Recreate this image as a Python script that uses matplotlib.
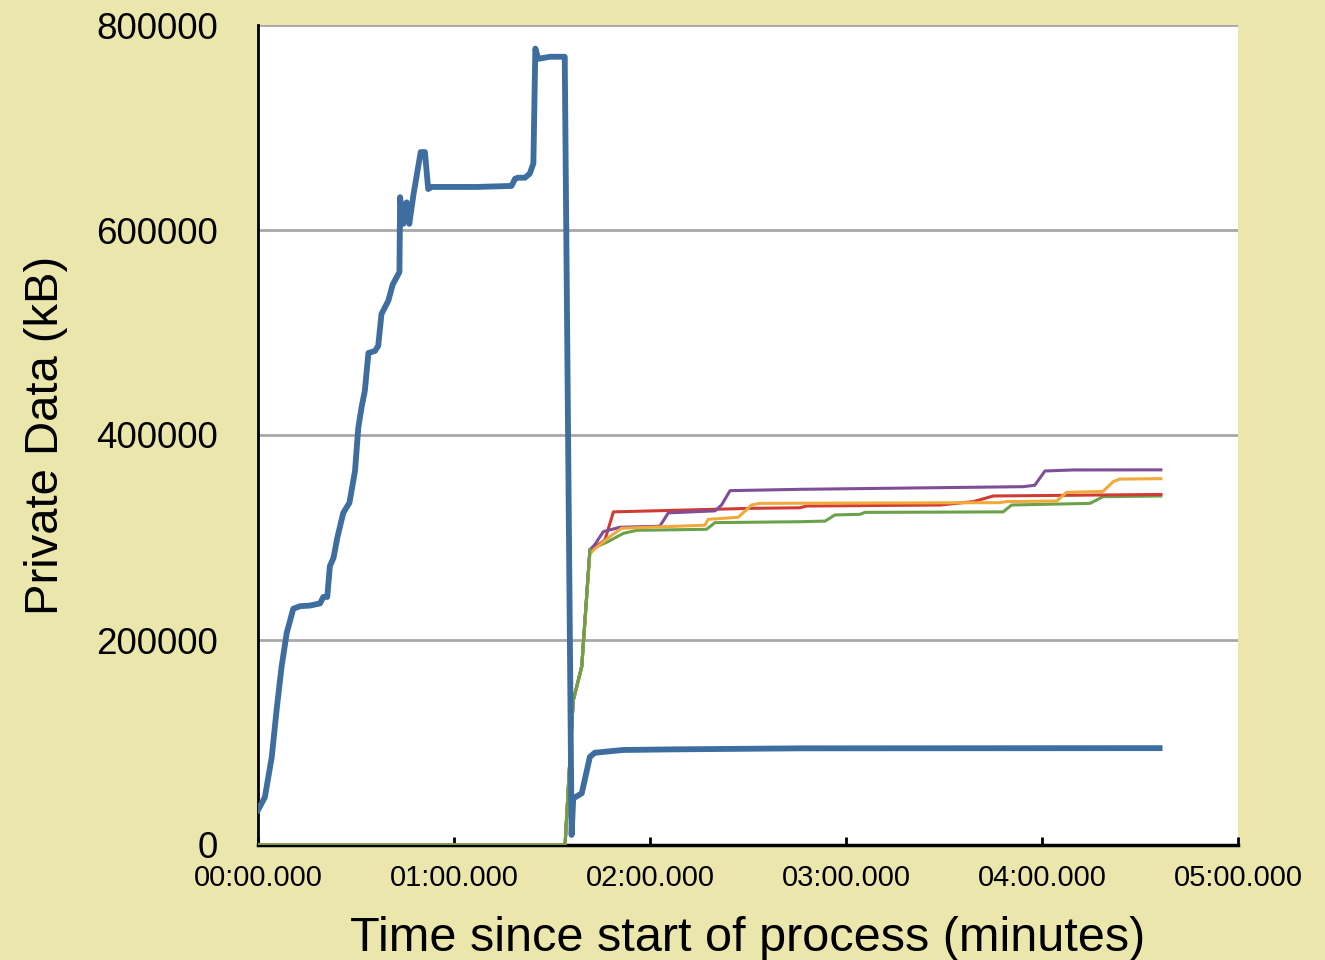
import numpy as np
import matplotlib
matplotlib.use("Agg")
import matplotlib.pyplot as plt
from matplotlib.ticker import FuncFormatter, MultipleLocator

plt.rcParams['font.family'] = ['Liberation Sans', 'DejaVu Sans']

# main process (seconds, kB)
blue_t = [0, 2.1, 4.2, 5.7, 7.2, 8.8, 10.8, 12.9, 15.9, 19.0, 20.0, 21.2, 22.0, 23.1,
          24.3, 26.1, 28.0, 29.7, 30.7, 31.7, 32.7, 33.8, 35.8, 36.8, 37.8, 39.9,
          41.2, 43.3, 43.5, 44.5, 45.5, 46.3, 47.6, 49.8, 51.1, 52.1, 53.2, 66.9,
          77.6, 78.7, 79.6, 81.7, 83.2, 84.3, 84.9, 85.8, 89.4, 93.9, 96.0, 96.5, 99.1,
          101.6, 103.1, 111.8, 127.0, 165.9, 276.0]
blue_v = [34000, 46600, 85500, 132000, 173500, 207000, 230500, 233000, 233600, 235700,
          242000, 242000, 272000, 280000, 300000, 324000, 334000, 365000, 407000,
          427000, 443000, 480000, 482000, 487000, 518000, 531000, 546500, 559000,
          632000, 606000, 627000, 606000, 634600, 676000, 676000, 640000, 642000,
          642000, 643000, 650000, 651000, 651000, 655000, 665000, 777000, 767000, 769000,
          769000, 9800, 45500, 50400, 86000, 90000, 92700, 93300, 94300, 94500]

# child processes
green_t = [0, 94.0, 96.5, 99.1, 101.6, 107.2, 111.8, 115.9, 137.3, 139.9, 165.9,
           173.6, 176.6, 184.3, 185.8, 228.1, 230.7, 254.7, 258.7, 276.4]
green_v = [0, 0, 141000, 174000, 288000, 296000, 304000, 307000, 308000, 314500,
           315400, 316000, 322000, 322600, 324500, 325000, 331700, 333300, 339800, 340500]

red_t = [0, 94.0, 96.5, 99.1, 101.6, 106.2, 108.8, 151.6, 165.9, 167.9, 208.8,
         219.0, 225.1, 276.4]
red_v = [0, 0, 141000, 174000, 287000, 297600, 325000, 328500, 329000, 330700,
         331700, 335000, 340500, 342000]

purple_t = [0, 94.0, 96.5, 99.1, 101.6, 103.1, 105.7, 110.8, 123.0, 125.6, 139.9,
            141.9, 144.5, 165.9, 234.3, 237.8, 240.9, 249.6, 276.4]
purple_v = [0, 0, 141000, 174000, 288000, 293000, 305700, 310000, 311000, 324000,
            326000, 331700, 345700, 347000, 349600, 351000, 364900, 365900, 366000]

orange_t = [0, 94.0, 96.5, 99.1, 101.6, 103.1, 107.7, 111.3, 136.8, 137.8, 147.0,
            151.1, 153.6, 227.1, 229.1, 244.5, 247.5, 258.7, 261.8, 263.8, 276.4]
orange_v = [0, 0, 141000, 174000, 284000, 289000, 300800, 309000, 312000, 317700,
            319700, 331700, 333300, 334000, 335000, 335600, 344000, 345000, 354500,
            357000, 357400]

bg = '#EBE6AB'
fig = plt.figure(figsize=(13.25, 9.6), dpi=100, facecolor=bg)
ax = fig.add_axes([258 / 1325, 115 / 960, 980 / 1325, 820 / 960])
ax.set_facecolor('white')

ax.plot(green_t, green_v, color='#6AA24B', lw=2.2, zorder=3)
ax.plot(red_t, red_v, color='#D03B34', lw=2.2, zorder=3)
ax.plot(purple_t, purple_v, color='#7F4E96', lw=2.2, zorder=3)
ax.plot(orange_t, orange_v, color='#F2A93B', lw=2.2, zorder=3)
ax.plot(green_t[:5], green_v[:5], color='#6AA24B', lw=2.2, zorder=3)
ax.plot(blue_t, blue_v, color='#3E6DA0', lw=4.2, zorder=4)

ax.set_xlim(0, 300)
ax.set_ylim(0, 800000)
ax.xaxis.set_major_locator(MultipleLocator(60))
ax.yaxis.set_major_locator(MultipleLocator(200000))
ax.xaxis.set_major_formatter(FuncFormatter(lambda s, p: '%02d:%02d.000' % (s // 60, s % 60)))
ax.yaxis.set_major_formatter(FuncFormatter(lambda v, p: '%d' % v))
ax.grid(axis='y', color='#A8A8A8', lw=2)
ax.set_axisbelow(True)

for s in ['top', 'right']:
    ax.spines[s].set_visible(False)
ax.spines['left'].set_linewidth(2)
ax.spines['bottom'].set_linewidth(2.5)
ax.tick_params(axis='x', direction='in', length=6, width=2, labelsize=21, pad=14)
ax.tick_params(axis='y', length=0, labelsize=26.5, pad=29)

ax.set_xlabel('Time since start of process (minutes)', fontsize=35, labelpad=17)
ax.set_ylabel('Private Data (kB)', fontsize=34, labelpad=20)

fig.savefig('out.png', dpi=100, facecolor=bg)
